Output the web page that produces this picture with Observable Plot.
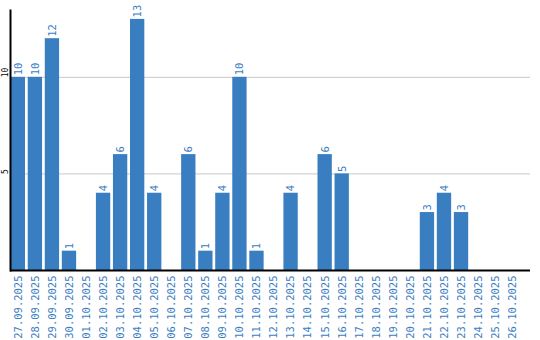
<!DOCTYPE html>
<html>
<head>
<meta charset="utf-8">
<script src="https://cdn.jsdelivr.net/npm/d3@7"></script>
<script src="https://cdn.jsdelivr.net/npm/@observablehq/plot@0.6"></script>
<style>
  html, body { margin: 0; padding: 0; background: #fff; }
</style>
</head>
<body>
<div id="chart"></div>
<script>
const dates = ["27.09.2025","28.09.2025","29.09.2025","30.09.2025","01.10.2025","02.10.2025","03.10.2025","04.10.2025","05.10.2025","06.10.2025","07.10.2025","08.10.2025","09.10.2025","10.10.2025","11.10.2025","12.10.2025","13.10.2025","14.10.2025","15.10.2025","16.10.2025","17.10.2025","18.10.2025","19.10.2025","20.10.2025","21.10.2025","22.10.2025","23.10.2025","24.10.2025","25.10.2025","26.10.2025"];
const counts = [10,10,12,1,0,4,6,13,4,0,6,1,4,10,1,0,4,0,6,5,0,0,0,0,3,4,3,0,0,0];
const yTicks = [5, 10];

const data = dates.map((d, i) => ({date: d, value: counts[i]}));
const blue = "#3a7ec2";
const font = "DejaVu Sans Mono";

const chart = Plot.plot({
  width: 540,
  height: 340,
  marginLeft: 10,
  marginRight: 10,
  marginTop: 10,
  marginBottom: 70,
  style: {fontFamily: font, background: "#fff"},
  x: {domain: dates, range: [10, 520], paddingInner: 0.16, paddingOuter: 0.04, round: false, label: null},
  y: {domain: [0, 13.46], label: null, axis: null},
  marks: [
    Plot.ruleY(yTicks, {stroke: "#c8c8c8", strokeWidth: 1}),
    Plot.barY(data, {x: "date", y: "value", fill: blue}),
    Plot.text(data.filter(d => d.value > 0), {
      x: "date", y: "value", text: d => String(d.value),
      rotate: -90, textAnchor: "start", dy: -2,
      fill: blue, fontSize: 10.5, fontFamily: font
    }),
    Plot.text(yTicks, {
      y: d => d, text: d => String(d), frameAnchor: "left", dx: -5,
      rotate: -90, fill: "#000", fontSize: 8, fontFamily: font
    }),
    Plot.axisX({
      tickRotate: -90, tickSize: 0, tickPadding: 5, label: null,
      fill: blue, fontSize: 10.5, fontFamily: font
    }),
    Plot.ruleY([0], {stroke: "#000", strokeWidth: 2}),
    Plot.frame({anchor: "left", stroke: "#000", strokeWidth: 2})
  ]
});
document.getElementById("chart").appendChild(chart);
</script>
</body>
</html>
